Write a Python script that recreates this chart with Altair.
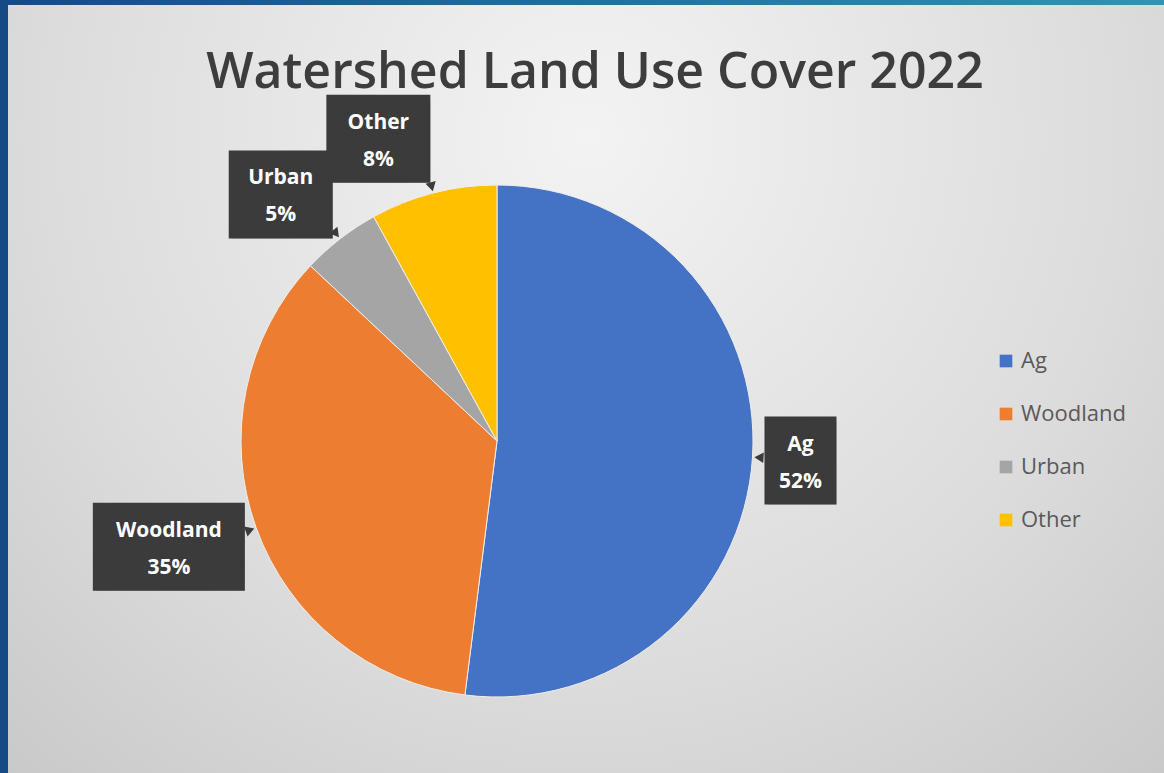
import altair as alt
import pandas as pd

TITLE = "Watershed Land Use Cover 2022"
categories = ["Ag", "Woodland", "Urban", "Other"]
shares = [52, 35, 5, 8]
colors = ["#4472C4", "#ED7D31", "#A5A5A5", "#FFC000"]

W, H = 1164, 773
CX, CY = 497, 441      # pie centre (px)
R = 256                # pie radius
R_ANCHOR = 268         # where the callouts touch
BOX_H = 88
FONT = "Open Sans"

df = pd.DataFrame({"cat": categories, "value": shares, "idx": list(range(len(categories)))})
one = pd.DataFrame({"k": [0]})

# ---------- decorative frame ----------
panel = alt.Chart(one).mark_rect(
    color={
        "gradient": "radial",
        "x1": 0.5, "y1": 0.28, "r1": 0.0,
        "x2": 0.5, "y2": 0.28, "r2": 0.85,
        "stops": [
            {"offset": 0.0, "color": "#f3f3f3"},
            {"offset": 0.55, "color": "#dcdcdc"},
            {"offset": 1.0, "color": "#c2c2c2"},
        ],
    }
).encode(x=alt.value(8), x2=alt.value(W), y=alt.value(5), y2=alt.value(H))

topbar = alt.Chart(one).mark_rect(
    color={
        "gradient": "linear", "x1": 0, "y1": 0, "x2": 1, "y2": 0,
        "stops": [
            {"offset": 0.0, "color": "#164a84"},
            {"offset": 1.0, "color": "#3193b3"},
        ],
    }
).encode(x=alt.value(0), x2=alt.value(W), y=alt.value(0), y2=alt.value(5))

# ---------- pie ----------
pie = alt.Chart(df).mark_arc(radius=R, stroke="#eeeeee", strokeWidth=1).encode(
    theta=alt.Theta("value:Q", stack=True),
    order=alt.Order("idx:Q"),
    color=alt.Color(
        "cat:N",
        sort=categories,
        scale=alt.Scale(domain=categories, range=colors),
        legend=alt.Legend(
            orient="none", legendX=995, legendY=350, title=None,
            symbolType="square", symbolSize=160, symbolStrokeWidth=0,
            labelFontSize=22, labelColor="#595959", labelFont=FONT,
            rowPadding=31, labelOffset=4, padding=0,
        ),
    ),
    x=alt.value(CX),
    y=alt.value(CY),
)

# ---------- callout labels ----------
lab = alt.Chart(df).transform_joinaggregate(
    total="sum(value)"
).transform_window(
    cum="sum(value)", sort=[alt.SortField("idx")], frame=[None, 0]
).transform_calculate(
    mid="2*PI*(datum.cum - datum.value/2)/datum.total"
).transform_calculate(
    pct="round(100*datum.value/datum.total) + '%'"
).transform_calculate(
    ax=f"{CX} + {R_ANCHOR}*sin(datum.mid)"
).transform_calculate(
    ay=f"{CY} - {R_ANCHOR}*cos(datum.mid)"
).transform_calculate(
    bw="max(length(datum.cat), length(datum.pct))*16 + 24"
).transform_calculate(
    bx="datum.ax + (sin(datum.mid) >= 0 ? 1 : -1)*datum.bw/2"
).transform_calculate(
    by=f"datum.ay - cos(datum.mid)*{BOX_H}/2"
).transform_calculate(
    x1="datum.bx - datum.bw/2"
).transform_calculate(
    x2="datum.bx + datum.bw/2"
).transform_calculate(
    y1=f"datum.by - {BOX_H}/2"
).transform_calculate(
    y2=f"datum.by + {BOX_H}/2"
).transform_calculate(
    px=f"{CX} + ({R_ANCHOR}-4)*sin(datum.mid)"
).transform_calculate(
    py=f"{CY} - ({R_ANCHOR}-4)*cos(datum.mid)"
).transform_calculate(
    ang="(datum.mid*180/PI + 180) % 360"
)

box_enc = dict(
    x=alt.X("x1:Q", scale=None, axis=None),
    x2="x2:Q",
    y=alt.Y("y1:Q", scale=None, axis=None),
    y2="y2:Q",
)
box_shadow = lab.mark_rect(color="#000000", opacity=0.22, xOffset=4, yOffset=5).encode(**box_enc)
boxes = lab.mark_rect(color="#3b3b3b").encode(**box_enc)

pointers = lab.mark_point(shape="triangle", filled=True, size=110, color="#3b3b3b", opacity=1).encode(
    x=alt.X("px:Q", scale=None, axis=None),
    y=alt.Y("py:Q", scale=None, axis=None),
    angle=alt.Angle("ang:Q", scale=None),
)

txt_style = dict(font=FONT, fontSize=21, fontWeight="bold", color="#ffffff", align="center", baseline="middle")
name_txt = lab.mark_text(dy=-16, **txt_style).encode(
    x=alt.X("bx:Q", scale=None, axis=None),
    y=alt.Y("by:Q", scale=None, axis=None),
    text="cat:N",
)
pct_txt = lab.mark_text(dy=21, **txt_style).encode(
    x=alt.X("bx:Q", scale=None, axis=None),
    y=alt.Y("by:Q", scale=None, axis=None),
    text="pct:N",
)

# ---------- title ----------
title = alt.Chart(one).mark_text(
    font=FONT, fontSize=50, fontWeight=600, color="#3d3d3d", align="center", baseline="alphabetic"
).encode(x=alt.value(595), y=alt.value(88), text=alt.value(TITLE))

chart = alt.layer(
    panel, topbar, pie, box_shadow, boxes, pointers, name_txt, pct_txt, title
).properties(
    width=W, height=H, padding=0, autosize="none", background="#164a84"
).configure_view(stroke=None)

chart.save("out.html", embed_options={"renderer": "svg", "actions": False})
